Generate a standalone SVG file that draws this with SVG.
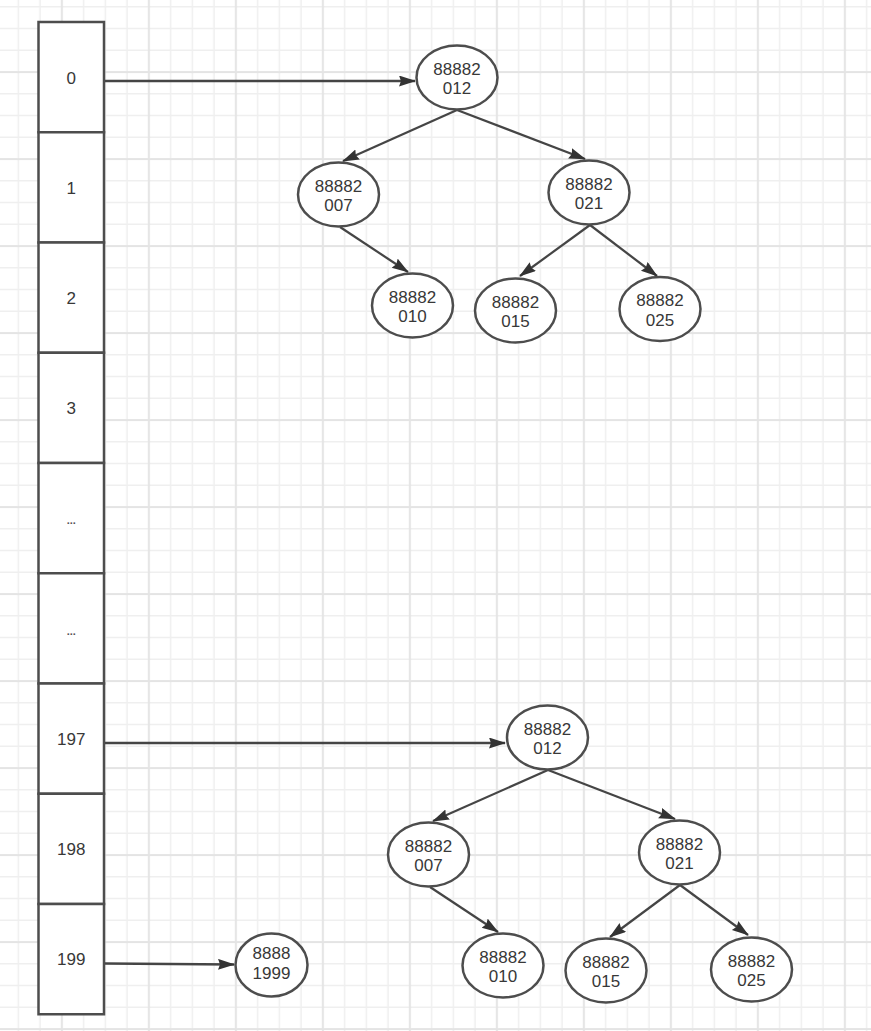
<svg xmlns="http://www.w3.org/2000/svg" width="871" height="1031" viewBox="0 0 871 1031">
<style>
.cell{fill:#fff;stroke:#4d4d4d;stroke-width:2.5}
.node{fill:#fff;stroke:#4d4d4d;stroke-width:2.5}
.t{font-family:"Liberation Sans",Arial,sans-serif;font-size:17px;fill:#383838;text-anchor:middle}
.e{stroke:#454545;stroke-width:2.2;fill:none;marker-end:url(#ah)}
.a{stroke-width:2.6}
</style>
<defs>
<pattern id="grid" patternUnits="userSpaceOnUse" x="61.8" y="72" width="87" height="87">
<rect x="21" y="0" width="1.5" height="87" fill="#efefef"/>
<rect x="42.75" y="0" width="1.5" height="87" fill="#efefef"/>
<rect x="64.5" y="0" width="1.5" height="87" fill="#efefef"/>
<rect x="0" y="21" width="87" height="1.5" fill="#efefef"/>
<rect x="0" y="42.75" width="87" height="1.5" fill="#efefef"/>
<rect x="0" y="64.5" width="87" height="1.5" fill="#efefef"/>
<rect x="-0.9" y="0" width="2" height="87" fill="#e4e4e4"/>
<rect x="0" y="-0.9" width="87" height="2" fill="#e4e4e4"/>
<rect x="86.1" y="0" width="2" height="87" fill="#e4e4e4"/>
<rect x="0" y="86.1" width="87" height="2" fill="#e4e4e4"/>
</pattern>
<marker id="ah" markerUnits="userSpaceOnUse" markerWidth="18" markerHeight="12" refX="16" refY="5.5" orient="auto">
<path d="M0,0 L17,5.5 L0,11 L2,5.5 Z" fill="#333"/>
</marker>
</defs>
<rect width="871" height="1031" fill="#fff"/>
<rect width="871" height="1031" fill="url(#grid)"/>

<g id="connectors">
<line class="e a" x1="105" y1="81" x2="415" y2="81"/>
<line class="e a" x1="105" y1="743" x2="505" y2="743"/>
<line class="e a" x1="105" y1="963.5" x2="234" y2="964.5"/>
<line class="e" x1="457" y1="110" x2="343" y2="161"/>
<line class="e" x1="457" y1="110" x2="585" y2="159"/>
<line class="e" x1="340" y1="227" x2="408" y2="272"/>
<line class="e" x1="590" y1="225" x2="520" y2="276"/>
<line class="e" x1="590" y1="225" x2="657" y2="276"/>
<line class="e" x1="548" y1="770" x2="433" y2="821"/>
<line class="e" x1="548" y1="770" x2="675" y2="819"/>
<line class="e" x1="430" y1="887" x2="498" y2="932"/>
<line class="e" x1="680" y1="885" x2="610" y2="937"/>
<line class="e" x1="680" y1="885" x2="748" y2="935"/>
</g>

<g id="array">
<g id="cell-0"><rect class="cell" x="38.5" y="22" width="65.5" height="110.25"/><text class="t" x="71.25" y="84">0</text></g>
<g id="cell-1"><rect class="cell" x="38.5" y="132.25" width="65.5" height="110.25"/><text class="t" x="71.25" y="193.5">1</text></g>
<g id="cell-2"><rect class="cell" x="38.5" y="242.5" width="65.5" height="110.25"/><text class="t" x="71.25" y="303.7">2</text></g>
<g id="cell-3"><rect class="cell" x="38.5" y="352.75" width="65.5" height="110.25"/><text class="t" x="71.25" y="414">3</text></g>
<g id="cell-4"><rect class="cell" x="38.5" y="463" width="65.5" height="110.25"/><text class="t" x="71.25" y="524" style="font-size:11px;font-weight:bold;fill:#555">...</text></g>
<g id="cell-5"><rect class="cell" x="38.5" y="573.25" width="65.5" height="110.25"/><text class="t" x="71.25" y="635" style="font-size:11px;font-weight:bold;fill:#555">...</text></g>
<g id="cell-197"><rect class="cell" x="38.5" y="683.5" width="65.5" height="110.25"/><text class="t" x="71.25" y="744.8">197</text></g>
<g id="cell-198"><rect class="cell" x="38.5" y="793.75" width="65.5" height="110.25"/><text class="t" x="71.25" y="855">198</text></g>
<g id="cell-199"><rect class="cell" x="38.5" y="904" width="65.5" height="110.25"/><text class="t" x="71.25" y="965.2">199</text></g>
</g>

<g id="t1-012"><ellipse class="node" cx="457" cy="77.5" rx="40.5" ry="32"/><text class="t" x="457" y="74.5">88882</text><text class="t" x="457" y="94">012</text></g>
<g id="t1-007"><ellipse class="node" cx="338.5" cy="194.5" rx="40.5" ry="32"/><text class="t" x="338.5" y="191.5">88882</text><text class="t" x="338.5" y="211">007</text></g>
<g id="t1-021"><ellipse class="node" cx="589" cy="192.5" rx="40.5" ry="32"/><text class="t" x="589" y="189.5">88882</text><text class="t" x="589" y="209">021</text></g>
<g id="t1-010"><ellipse class="node" cx="412.5" cy="305.5" rx="40.5" ry="32"/><text class="t" x="412.5" y="302.5">88882</text><text class="t" x="412.5" y="322">010</text></g>
<g id="t1-015"><ellipse class="node" cx="515.5" cy="310.5" rx="40.5" ry="32"/><text class="t" x="515.5" y="307.5">88882</text><text class="t" x="515.5" y="327">015</text></g>
<g id="t1-025"><ellipse class="node" cx="660" cy="309" rx="40.5" ry="32"/><text class="t" x="660" y="306">88882</text><text class="t" x="660" y="325.5">025</text></g>

<g id="t2-012"><ellipse class="node" cx="547.5" cy="737.5" rx="40.5" ry="32"/><text class="t" x="547.5" y="734.5">88882</text><text class="t" x="547.5" y="754">012</text></g>
<g id="t2-007"><ellipse class="node" cx="428.5" cy="854.5" rx="40.5" ry="32"/><text class="t" x="428.5" y="851.5">88882</text><text class="t" x="428.5" y="871">007</text></g>
<g id="t2-021"><ellipse class="node" cx="679.5" cy="852.5" rx="40.5" ry="32"/><text class="t" x="679.5" y="849.5">88882</text><text class="t" x="679.5" y="869">021</text></g>
<g id="t2-010"><ellipse class="node" cx="503" cy="965.5" rx="40.5" ry="32"/><text class="t" x="503" y="962.5">88882</text><text class="t" x="503" y="982">010</text></g>
<g id="t2-015"><ellipse class="node" cx="606" cy="970.5" rx="40.5" ry="32"/><text class="t" x="606" y="967.5">88882</text><text class="t" x="606" y="987">015</text></g>
<g id="t2-025"><ellipse class="node" cx="751.5" cy="969.5" rx="40.5" ry="32"/><text class="t" x="751.5" y="966.5">88882</text><text class="t" x="751.5" y="986">025</text></g>

<g id="n-88881999"><ellipse class="node" cx="271.5" cy="965" rx="36" ry="31.5"/><text class="t" x="271.5" y="959">8888</text><text class="t" x="271.5" y="979">1999</text></g>
</svg>
